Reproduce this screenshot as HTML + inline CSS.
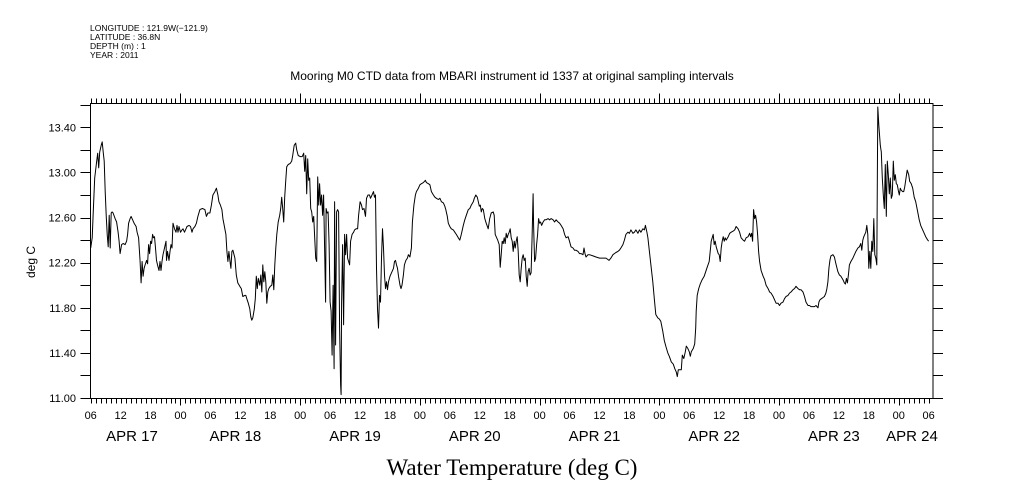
<!DOCTYPE html>
<html><head><meta charset="utf-8">
<style>
html,body{margin:0;padding:0;background:#fff;}
svg{display:block;font-family:"Liberation Sans",sans-serif;}
</style></head>
<body>
<svg id="chart" width="1009" height="504" viewBox="0 0 1009 504" xmlns="http://www.w3.org/2000/svg">
<rect x="0" y="0" width="1009" height="504" fill="#fff"/>
<g font-size="8.5" fill="#000">
<text x="90" y="31">LONGITUDE : 121.9W(−121.9)</text>
<text x="90" y="40">LATITUDE : 36.8N</text>
<text x="90" y="49">DEPTH (m) : 1</text>
<text x="90" y="58">YEAR : 2011</text>
</g>
<text x="512" y="80" font-size="12" text-anchor="middle">Mooring M0 CTD data from MBARI instrument id 1337 at original sampling intervals</text>
<text transform="translate(35,262) rotate(-90)" font-size="12" text-anchor="middle">deg C</text>
<text x="512" y="475" font-size="23" text-anchor="middle" font-family="Liberation Serif, serif">Water Temperature (deg C)</text>
<g id="axes"></g>
<g id="series"></g>
</svg>
<script>
const hours = [0,0.3,0.5,0.8,1.2,1.4,1.6,1.8,2.1,2.3,2.5,2.7,2.9,3.1,3.3,3.5,3.7,3.9,4.1,4.3,4.5,4.9,5.2,5.5,5.7,5.9,6.2,6.5,6.9,7.2,7.4,7.6,7.9,8.1,8.4,8.7,9.1,9.3,9.6,9.9,10.1,10.3,10.5,10.7,10.9,11.2,11.4,11.6,11.8,12.0,12.2,12.4,12.6,12.8,13.0,13.2,13.4,13.7,13.9,14.1,14.3,14.5,14.8,15.1,15.2,15.4,15.7,15.9,16.1,16.3,16.5,16.8,17.1,17.3,17.5,17.7,18.0,18.3,18.5,18.8,19.1,19.3,19.7,20.0,20.3,20.5,20.9,21.2,21.5,21.9,22.4,22.9,23.2,23.5,23.9,24.2,24.5,24.9,25.2,25.5,25.7,26.0,26.3,26.5,26.8,27.1,27.3,27.5,27.7,27.9,28.1,28.3,28.5,28.9,29.2,29.5,29.9,30.2,30.5,30.9,31.1,31.3,31.6,31.9,32.1,32.3,32.5,32.8,33.0,33.2,33.4,33.6,33.9,34.1,34.3,34.5,34.7,34.9,35.1,35.3,35.5,35.7,36.0,36.3,36.5,36.7,36.9,37.1,37.3,37.6,37.9,38.1,38.3,38.5,38.7,38.9,39.1,39.3,39.6,40.0,40.3,40.5,40.8,41.1,41.3,41.6,42.0,42.4,42.7,42.9,43.1,43.3,43.5,43.7,43.9,44.1,44.3,44.5,44.7,44.9,45.1,45.3,45.5,45.7,45.9,46.1,46.3,46.5,46.7,46.9,47.1,47.2,47.4,47.6,47.8,48.0,48.2,48.4,48.6,48.8,48.9,49.1,49.3,49.5,49.7,49.9,50.1,50.2,50.3,50.5,50.7,50.9,51.1,51.3,51.5,51.7,51.9,52.1,52.4,52.7,52.9,53.2,53.5,53.7,54.0,54.3,54.5,54.8,55.1,55.3,55.6,55.9,56.1,56.4,56.7,56.9,
57.1,57.3,57.5,57.7,57.9,58.1,58.3,58.5,58.7,58.9,59.1,59.3,59.5,59.7,60.0,60.3,60.7,60.9,61.1,61.3,61.5,61.7,62.0,62.2,62.4,62.7,62.9,63.2,63.5,63.7,64.0,64.3,64.5,64.8,65.1,65.3,65.7,66.0,66.3,66.7,67.1,67.3,67.7,68.0,68.3,68.7,69.0,69.3,69.7,70.0,70.3,70.7,71.0,71.2,71.5,71.7,72.0,72.3,72.7,73.0,73.3,73.7,74.0,74.3,74.7,75.0,75.3,75.7,76.0,76.3,76.7,76.9,77.2,77.5,77.7,77.9,78.1,78.3,78.5,78.7,79.0,79.3,79.7,80.0,80.3,80.7,80.9,81.1,81.3,81.6,81.9,82.1,82.3,82.5,82.7,82.9,83.1,83.3,83.5,83.7,83.9,84.1,84.3,84.5,84.7,84.9,85.1,85.3,85.5,85.7,85.9,86.1,86.3,86.5,86.7,86.9,87.1,87.3,87.5,87.7,87.9,88.1,88.3,88.5,88.7,88.8,89.0,89.2,89.4,89.6,89.8,90.0,90.2,90.4,90.7,91.0,91.3,91.7,92.0,92.3,92.7,93.0,93.3,93.7,94.0,94.3,94.7,95.0,95.3,95.7,96.0,96.3,96.7,97.0,97.3,97.7,98.0,98.3,98.7,98.9,99.1,99.3,99.7,100.0,100.7,101.3,102.0,102.7,103.3,103.9,104.3,104.7,105.0,105.3,105.7,106.0,106.3,106.7,107.0,107.3,107.7,108.0,108.3,108.7,109.0,109.3,109.7,110.0,110.3,110.7,111.0,111.2,111.5,111.7,112.0,112.3,112.7,113.0,113.3,113.7,114.0,114.3,114.7,115.0,115.3,115.7,116.0,
116.4,116.8,117.1,117.4,117.6,117.8,118.1,118.4,118.6,118.9,119.2,119.4,119.7,120.0,120.2,120.4,120.8,121.1,121.3,121.4,121.6,121.9,122.2,122.6,123.0,123.3,123.6,124.0,124.2,124.4,124.6,124.8,125.0,125.2,125.4,125.6,125.8,126.0,126.2,126.4,126.6,126.8,127.0,127.2,127.4,127.8,128.1,128.4,128.8,129.1,129.4,129.8,130.1,130.4,130.8,131.1,131.4,131.8,132.1,132.3,132.5,132.7,132.9,133.1,133.3,133.5,133.7,133.9,134.1,134.4,134.8,135.1,135.4,135.8,136.1,136.4,136.8,137.1,137.4,137.8,138.1,138.4,138.8,139.1,139.4,139.8,140.1,140.4,140.8,141.1,141.4,141.8,142.1,142.4,142.8,143.1,143.4,143.8,144.1,144.4,144.8,145.1,145.4,145.8,146.0,146.2,146.5,146.8,147.1,147.4,147.6,147.8,148.0,148.2,148.4,148.8,149.1,149.4,149.8,150.1,150.4,150.8,151.1,151.3,151.5,151.7,151.9,152.1,152.4,152.8,153.1,153.4,153.8,154.1,154.4,154.6,154.8,155.0,155.2,155.4,155.6,155.8,156.0,156.2,156.4,156.6,156.8,157.0,157.2,157.4,157.6,157.7,157.8,158.0,158.1,158.3,158.5,158.7,158.9,159.1,159.3,159.5,159.7,159.9,160.1,160.3,160.5,160.7,160.9,161.1,161.3,161.5,161.7,161.9,162.1,162.3,162.5,162.8,163.0,163.2,163.4,163.7,164.0,164.2,164.5,164.8,165.1,165.4,165.8,166.1,166.4,166.8,167.1,167.4,167.8,168.0];
const temps = [12.33,12.42,12.64,12.95,13.10,13.17,13.04,13.18,13.24,13.27,13.18,13.10,12.83,12.62,12.45,12.34,12.62,12.33,12.64,12.65,12.64,12.59,12.56,12.47,12.39,12.28,12.36,12.37,12.36,12.39,12.45,12.55,12.59,12.61,12.58,12.55,12.52,12.47,12.42,12.21,12.02,12.21,12.08,12.15,12.18,12.22,12.19,12.36,12.28,12.39,12.37,12.45,12.42,12.43,12.33,12.22,12.18,12.13,12.21,12.13,12.21,12.27,12.33,12.39,12.22,12.30,12.22,12.30,12.36,12.33,12.55,12.50,12.47,12.53,12.47,12.52,12.47,12.49,12.50,12.47,12.50,12.52,12.53,12.52,12.47,12.50,12.52,12.55,12.61,12.67,12.68,12.67,12.61,12.64,12.64,12.71,12.80,12.83,12.86,12.80,12.74,12.71,12.67,12.59,12.52,12.45,12.30,12.21,12.30,12.22,12.15,12.30,12.31,12.24,12.09,12.02,11.99,11.97,11.90,11.91,11.91,11.88,11.84,11.79,11.72,11.69,11.71,11.79,11.88,12.08,11.97,12.06,12.00,12.09,11.94,12.18,12.03,12.12,12.03,11.84,11.94,11.97,11.99,12.00,12.09,11.96,12.18,12.33,12.45,12.56,12.62,12.68,12.78,12.68,12.56,12.78,12.92,13.05,13.07,13.08,13.10,13.15,13.24,13.26,13.20,13.15,13.14,13.14,13.17,13.01,13.15,12.81,13.12,12.93,12.95,12.68,12.65,12.56,12.61,12.42,12.24,12.21,12.96,12.71,12.90,12.71,12.80,12.62,12.80,12.33,11.85,12.68,12.64,12.65,12.36,11.85,11.77,11.38,12.00,11.26,12.74,11.47,12.65,12.67,12.65,11.62,11.12,11.03,11.85,12.36,11.65,12.45,12.27,12.45,12.24,12.21,12.18,12.39,12.45,12.47,12.49,12.50,12.50,12.62,12.74,12.71,12.67,12.68,12.61,12.77,12.80,12.80,12.77,12.80,12.83,12.78,
12.80,12.15,11.79,11.62,11.91,11.85,12.24,12.50,12.33,12.09,11.97,12.03,11.96,12.03,12.08,12.11,12.15,12.21,12.22,12.18,12.15,12.08,12.00,11.97,12.00,12.09,12.18,12.22,12.24,12.27,12.25,12.33,12.56,12.71,12.80,12.83,12.86,12.89,12.90,12.91,12.93,12.91,12.90,12.89,12.83,12.80,12.78,12.77,12.76,12.77,12.74,12.73,12.70,12.67,12.61,12.55,12.52,12.50,12.49,12.47,12.45,12.42,12.40,12.45,12.53,12.58,12.62,12.67,12.68,12.71,12.74,12.77,12.80,12.78,12.74,12.70,12.71,12.65,12.68,12.67,12.59,12.55,12.50,12.59,12.64,12.65,12.62,12.45,12.43,12.40,12.36,12.16,12.27,12.39,12.37,12.42,12.37,12.46,12.42,12.45,12.47,12.50,12.42,12.39,12.30,12.39,12.33,12.39,12.43,12.30,12.09,12.03,12.15,12.24,12.27,12.22,12.24,12.08,11.99,12.12,12.15,12.09,12.11,12.43,12.81,12.53,12.21,12.24,12.36,12.45,12.59,12.55,12.56,12.53,12.56,12.58,12.58,12.59,12.58,12.59,12.58,12.56,12.58,12.56,12.55,12.53,12.50,12.45,12.42,12.43,12.39,12.34,12.33,12.31,12.31,12.30,12.28,12.28,12.27,12.33,12.28,12.25,12.27,12.27,12.26,12.25,12.24,12.24,12.24,12.22,12.24,12.27,12.28,12.29,12.30,12.31,12.33,12.36,12.40,12.45,12.47,12.46,12.49,12.46,12.47,12.49,12.46,12.49,12.47,12.50,12.49,12.53,12.47,12.42,12.30,12.18,12.03,11.88,11.74,11.71,11.70,11.68,11.59,11.51,11.46,11.40,11.37,
11.32,11.30,11.26,11.23,11.19,11.25,11.25,11.25,11.38,11.35,11.41,11.46,11.44,11.41,11.37,11.41,11.44,11.48,11.62,11.77,11.91,11.97,12.01,12.05,12.08,12.12,12.16,12.21,12.30,12.39,12.42,12.45,12.36,12.39,12.34,12.31,12.28,12.27,12.21,12.33,12.39,12.43,12.39,12.42,12.40,12.43,12.46,12.47,12.48,12.49,12.52,12.50,12.47,12.42,12.40,12.39,12.42,12.43,12.46,12.43,12.46,12.39,12.67,12.59,12.62,12.56,12.45,12.30,12.21,12.13,12.08,12.05,12.00,11.97,11.94,11.93,11.90,11.87,11.84,11.84,11.82,11.84,11.85,11.88,11.90,11.91,11.93,11.94,11.96,11.97,11.99,11.97,11.96,11.96,11.94,11.90,11.85,11.82,11.82,11.81,11.81,11.81,11.82,11.80,11.85,11.87,11.88,11.89,11.90,11.93,11.97,12.03,12.15,12.22,12.26,12.27,12.25,12.19,12.12,12.09,12.08,12.05,12.02,12.01,12.06,12.02,12.09,12.18,12.21,12.24,12.27,12.30,12.33,12.34,12.37,12.31,12.40,12.43,12.45,12.47,12.53,12.45,12.15,12.30,12.15,12.39,12.30,12.59,12.27,12.24,12.18,12.89,13.58,13.42,13.36,13.24,13.18,12.95,12.80,12.68,13.07,12.61,13.10,12.98,12.81,12.95,12.77,12.80,13.10,12.93,12.98,12.90,12.89,12.84,12.80,12.86,12.84,12.83,12.83,12.87,12.93,13.02,12.98,12.92,12.90,12.86,12.78,12.74,12.65,12.58,12.53,12.49,12.46,12.43,12.40,12.39];
const yTickValues = [11.0,11.4,11.8,12.2,12.6,13.0,13.4];
const yTickLabels = ["11.00","11.40","11.80","12.20","12.60","13.00","13.40"];
const dayLabels = ["APR 17","APR 18","APR 19","APR 20","APR 21","APR 22","APR 23","APR 24"];

const X0=90.7, PXH=4.988, Y0=398, PXD=112.8;
const L=90.5, R=933, T=103.5, B=398.5;
function xs(h){return X0+h*PXH;}
function ys(v){return Y0-(v-11)*PXD;}
const NS="http://www.w3.org/2000/svg";
const axes=document.getElementById('axes');
function ln(x1,y1,x2,y2,name){
  const e=document.createElementNS(NS,'line');
  e.setAttribute('x1',x1);e.setAttribute('y1',y1);e.setAttribute('x2',x2);e.setAttribute('y2',y2);
  e.setAttribute('stroke','#000');e.setAttribute('stroke-width','1');
  
  
  axes.appendChild(e);return e;
}
function tx(x,y,s,size,anchor,name){
  const e=document.createElementNS(NS,'text');
  e.setAttribute('x',x);e.setAttribute('y',y);e.setAttribute('font-size',size);
  e.setAttribute('text-anchor',anchor);e.textContent=s;
  
  
  axes.appendChild(e);return e;
}
const frame=document.createElementNS(NS,'rect');
frame.setAttribute('x',L);frame.setAttribute('y',T);frame.setAttribute('width',R-L);frame.setAttribute('height',B-T);
frame.setAttribute('fill','none');frame.setAttribute('stroke','#000');


axes.appendChild(frame);
for(let h=0;h<=169;h++){
  const x=Math.round(xs(h))+0.5;
  if(x>R) break;
  const isDay=((h+6)%24===0);
  ln(x,B,x,B+(isDay?7:5),'x-tick');
  ln(x,T,x,T-(isDay?10:5),'x-tick-top');
  if(h%6===0){
    const hr=(h+6)%24;
    tx(xs(h),419,(hr<10?'0':'')+hr,11,'middle','x-hour-label');
  }
}
for(let d=0;d<dayLabels.length;d++){
  let cx=xs(d*24+6)-5;
  cx=Math.max(132,Math.min(912,cx));
  tx(cx,441,dayLabels[d],15,'middle','x-day-label');
}
for(let v=11.0;v<=13.61;v+=0.2){
  const y=Math.round(ys(v))+0.5;
  ln(L-10,y,L,y,'y-tick');
  ln(R,y,R+10,y,'y-tick-right');
}
yTickValues.forEach((v,i)=>{tx(76,ys(v)+4,yTickLabels[i],11,'end','y-tick-label');});
let d='';
for(let i=0;i<hours.length;i++){d+=(i?'L':'M')+xs(hours[i]).toFixed(1)+' '+ys(temps[i]).toFixed(1);}
const p=document.createElementNS(NS,'path');
p.setAttribute('d',d);p.setAttribute('fill','none');p.setAttribute('stroke','#000');p.setAttribute('stroke-width','1');
p.setAttribute('stroke-linejoin','round');


document.getElementById('series').appendChild(p);
</script>
</body></html>
